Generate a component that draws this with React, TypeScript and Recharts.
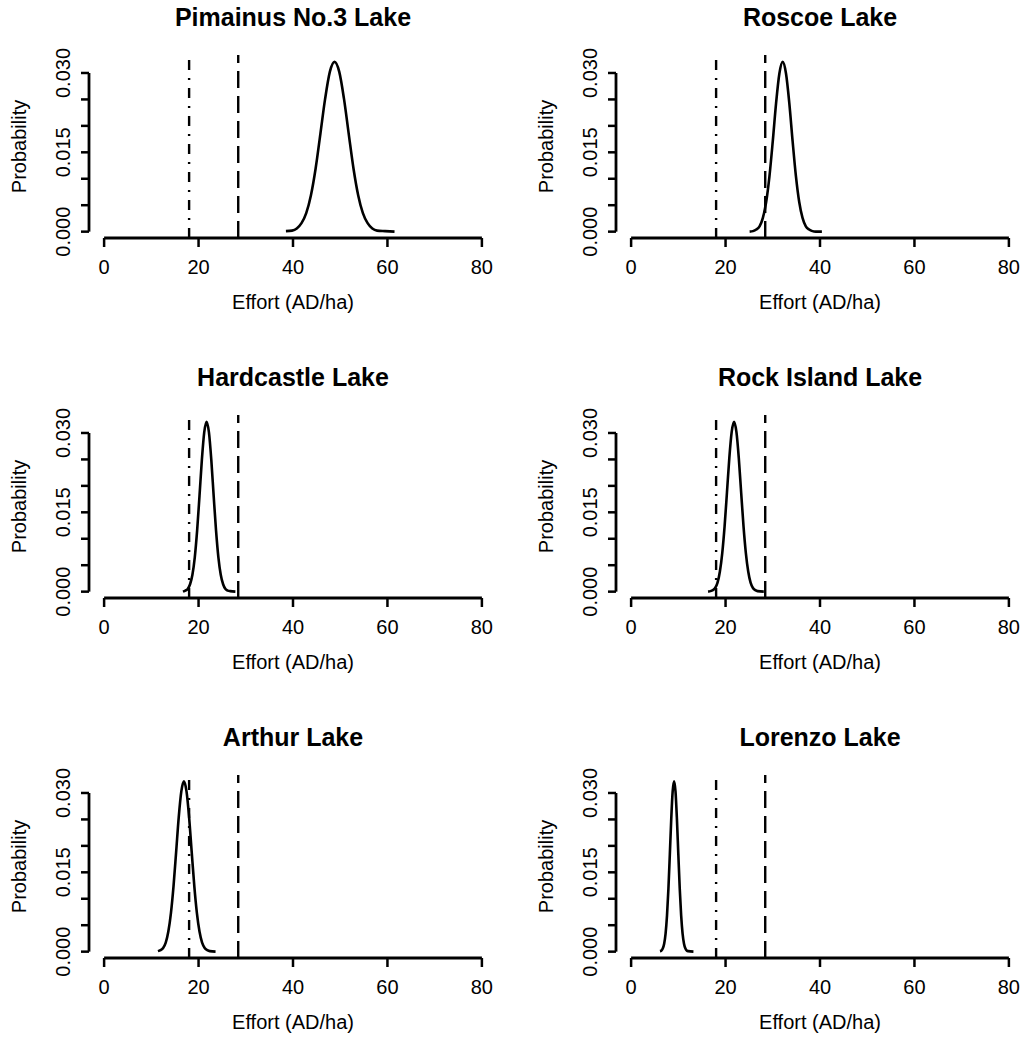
import { LineChart, Line, XAxis, YAxis, ReferenceLine } from 'recharts'

// Estimated density curves (Effort in AD/ha, Probability)
const pimainus = [
  { x: 38.5, p: 0.0001 }, { x: 39.8, p: 0.0002 }, { x: 40.8, p: 0.0006 }, { x: 41.8, p: 0.0016 },
  { x: 42.8, p: 0.0035 }, { x: 43.8, p: 0.0069 }, { x: 44.8, p: 0.012 }, { x: 45.8, p: 0.0185 },
  { x: 46.8, p: 0.0251 }, { x: 47.8, p: 0.0302 }, { x: 48.8, p: 0.0321 }, { x: 49.8, p: 0.0302 },
  { x: 50.8, p: 0.0251 }, { x: 51.8, p: 0.0185 }, { x: 52.8, p: 0.012 }, { x: 53.8, p: 0.0069 },
  { x: 54.8, p: 0.0035 }, { x: 55.8, p: 0.0016 }, { x: 56.8, p: 0.0006 }, { x: 57.8, p: 0.0002 },
  { x: 59.5, p: 0.0001 }, { x: 61.5, p: 0.0 },
]

const roscoe = [
  { x: 25.1, p: 0.0 }, { x: 25.8, p: 0.0001 }, { x: 26.5, p: 0.0004 }, { x: 27.2, p: 0.001 },
  { x: 27.9, p: 0.0026 }, { x: 28.6, p: 0.0056 }, { x: 29.3, p: 0.0105 }, { x: 30.0, p: 0.0171 },
  { x: 30.7, p: 0.0243 }, { x: 31.4, p: 0.0299 }, { x: 32.1, p: 0.0321 }, { x: 32.8, p: 0.0299 },
  { x: 33.5, p: 0.0243 }, { x: 34.2, p: 0.0171 }, { x: 34.9, p: 0.0105 }, { x: 35.6, p: 0.0056 },
  { x: 36.3, p: 0.0026 }, { x: 37.0, p: 0.001 }, { x: 37.7, p: 0.0004 }, { x: 38.4, p: 0.0001 },
  { x: 39.1, p: 0.0 }, { x: 40.4, p: 0.0 },
]

const hardcastle = [
  { x: 16.7, p: 0.0 }, { x: 17.2, p: 0.0002 }, { x: 17.7, p: 0.0005 }, { x: 18.2, p: 0.0014 },
  { x: 18.7, p: 0.0032 }, { x: 19.2, p: 0.0065 }, { x: 19.7, p: 0.0116 }, { x: 20.2, p: 0.0181 },
  { x: 20.7, p: 0.0249 }, { x: 21.2, p: 0.0301 }, { x: 21.7, p: 0.0321 }, { x: 22.2, p: 0.0301 },
  { x: 22.7, p: 0.0249 }, { x: 23.2, p: 0.0181 }, { x: 23.7, p: 0.0116 }, { x: 24.2, p: 0.0065 },
  { x: 24.7, p: 0.0032 }, { x: 25.2, p: 0.0014 }, { x: 25.7, p: 0.0005 }, { x: 26.2, p: 0.0002 },
  { x: 26.7, p: 0.0001 }, { x: 27.8, p: 0.0 },
]

const rockIsland = [
  { x: 16.3, p: 0.0 }, { x: 16.8, p: 0.0001 }, { x: 17.3, p: 0.0003 }, { x: 17.8, p: 0.0007 },
  { x: 18.3, p: 0.0017 }, { x: 18.8, p: 0.0038 }, { x: 19.3, p: 0.0073 }, { x: 19.8, p: 0.0124 },
  { x: 20.3, p: 0.0188 }, { x: 20.8, p: 0.0253 }, { x: 21.3, p: 0.0302 }, { x: 21.8, p: 0.0321 },
  { x: 22.3, p: 0.0302 }, { x: 22.8, p: 0.0253 }, { x: 23.3, p: 0.0188 }, { x: 23.8, p: 0.0124 },
  { x: 24.3, p: 0.0073 }, { x: 24.8, p: 0.0038 }, { x: 25.3, p: 0.0017 }, { x: 25.8, p: 0.0007 },
  { x: 26.3, p: 0.0003 }, { x: 26.8, p: 0.0001 }, { x: 28.1, p: 0.0 },
]

const arthur = [
  { x: 11.4, p: 0.0001 }, { x: 11.95, p: 0.0003 }, { x: 12.5, p: 0.0007 }, { x: 13.05, p: 0.0017 },
  { x: 13.6, p: 0.0038 }, { x: 14.15, p: 0.0073 }, { x: 14.7, p: 0.0124 }, { x: 15.25, p: 0.0188 },
  { x: 15.8, p: 0.0254 }, { x: 16.35, p: 0.0303 }, { x: 16.9, p: 0.0322 }, { x: 17.45, p: 0.0303 },
  { x: 18.0, p: 0.0254 }, { x: 18.55, p: 0.0188 }, { x: 19.1, p: 0.0124 }, { x: 19.65, p: 0.0073 },
  { x: 20.2, p: 0.0038 }, { x: 20.75, p: 0.0017 }, { x: 21.3, p: 0.0007 }, { x: 21.85, p: 0.0003 },
  { x: 22.4, p: 0.0001 }, { x: 23.6, p: 0.0 },
]

const lorenzo = [
  { x: 6.1, p: 0.0001 }, { x: 6.4, p: 0.0002 }, { x: 6.7, p: 0.0006 }, { x: 7.0, p: 0.0015 },
  { x: 7.3, p: 0.0034 }, { x: 7.6, p: 0.0068 }, { x: 7.9, p: 0.0119 }, { x: 8.2, p: 0.0184 },
  { x: 8.5, p: 0.0251 }, { x: 8.8, p: 0.0303 }, { x: 9.1, p: 0.0322 }, { x: 9.4, p: 0.0303 },
  { x: 9.7, p: 0.0251 }, { x: 10.0, p: 0.0184 }, { x: 10.3, p: 0.0119 }, { x: 10.6, p: 0.0068 },
  { x: 10.9, p: 0.0034 }, { x: 11.2, p: 0.0015 }, { x: 11.5, p: 0.0006 }, { x: 11.8, p: 0.0002 },
  { x: 12.1, p: 0.0001 }, { x: 13.2, p: 0.0 },
]

const lakeNames = [
  'Pimainus No.3 Lake', 'Roscoe Lake', 'Hardcastle Lake',
  'Rock Island Lake', 'Arthur Lake', 'Lorenzo Lake',
]
const lakeCurves = [pimainus, roscoe, hardcastle, rockIsland, arthur, lorenzo]

const xTicks = [0, 20, 40, 60, 80]
const yTicks = [0, 0.005, 0.01, 0.015, 0.02, 0.025, 0.03]
const yLabelled = [0, 0.015, 0.03]
const dotDashLine = 18
const dashLine = 28.4

const xDomain = [-3.2, 83.2]
const yDomain = [-0.0012, 0.0334]

const FONT = '"Liberation Sans", Arial, Helvetica, sans-serif'

const XTick = ({ x, y, payload }: any) => (
  <text x={x} y={y + 20} textAnchor="middle" dominantBaseline="central"
    fontSize={20} fontFamily={FONT} fill="#000">
    {payload.value}
  </text>
)

const YTick = ({ x, y, payload }: any) => {
  const show = yLabelled.some(v => Math.abs(v - payload.value) < 1e-9)
  if (!show) return null
  const cx = x - 18
  return (
    <text x={cx} y={y} transform={`rotate(-90, ${cx}, ${y})`} textAnchor="middle"
      dominantBaseline="central" fontSize={20} fontFamily={FONT} fill="#000">
      {payload.value.toFixed(3)}
    </text>
  )
}

const YTitle = (props: any) => {
  const { viewBox } = props
  const cx = viewBox.x + 5
  const cy = viewBox.y + viewBox.height / 2
  return (
    <text x={cx} y={cy} transform={`rotate(-90, ${cx}, ${cy})`} textAnchor="middle"
      dominantBaseline="central" fontSize={20} fontFamily={FONT} fill="#000">
      Probability
    </text>
  )
}

function LakePanel({ title, data, left, top }: any) {
  return (
    <div style={{ position: 'absolute', left, top, width: 511, height: 360 }}>
      <div style={{
        position: 'absolute', left: 89, top: 2, width: 408, textAlign: 'center',
        fontFamily: FONT, fontWeight: 'bold', fontSize: 25, lineHeight: '30px', color: '#000',
      }}>
        {title}
      </div>
      <LineChart width={511} height={360} data={data}
        margin={{ top: 55, right: 14, bottom: 42, left: 14 }}>
        <XAxis type="number" dataKey="x" domain={xDomain} allowDataOverflow ticks={xTicks}
          axisLine={false} tickSize={9} tickMargin={0} height={80}
          tickLine={{ stroke: '#000', strokeWidth: 2.5 }} tick={<XTick />}
          label={{ value: 'Effort (AD/ha)', position: 'insideBottom', offset: 9, fontSize: 20, fontFamily: FONT, fill: '#000' }} />
        <YAxis type="number" domain={yDomain} allowDataOverflow ticks={yTicks}
          axisLine={false} tickSize={8} tickMargin={0} width={75}
          tickLine={{ stroke: '#000', strokeWidth: 2.5 }} tick={<YTick />}
          label={<YTitle />} />
        <ReferenceLine segment={[{ x: 0, y: yDomain[0] }, { x: 80, y: yDomain[0] }]}
          stroke="#000" strokeWidth={2.8} ifOverflow="visible" />
        <ReferenceLine segment={[{ x: xDomain[0], y: 0 }, { x: xDomain[0], y: 0.03 }]}
          stroke="#000" strokeWidth={2.8} ifOverflow="visible" />
        <ReferenceLine x={dotDashLine} stroke="#000" strokeWidth={2.4} strokeDasharray="10 8 2 8" ifOverflow="visible" />
        <ReferenceLine x={dashLine} stroke="#000" strokeWidth={2.4} strokeDasharray="17 8" ifOverflow="visible" />
        <Line type="monotone" dataKey="p" stroke="#000" strokeWidth={2.6} dot={false}
          isAnimationActive={false} />
      </LineChart>
    </div>
  )
}

export default function App() {
  return (
    <div style={{
      position: 'absolute', left: 0, top: 0, width: 1022, height: 1041,
      overflow: 'hidden', background: '#fff',
    }}>
      {lakeNames.map((name, i) => (
        <LakePanel key={name} title={name} data={lakeCurves[i]}
          left={(i % 2) * 527} top={Math.floor(i / 2) * 360} />
      ))}
    </div>
  )
}
